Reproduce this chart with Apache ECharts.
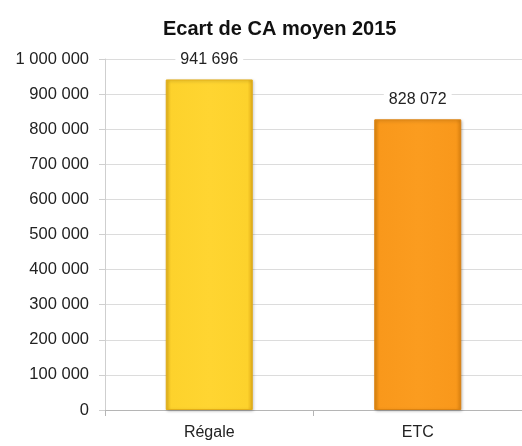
<!DOCTYPE html>
<html>
<head>
<meta charset="utf-8">
<script src="https://cdn.jsdelivr.net/npm/echarts@6/dist/echarts.min.js"></script>
<style>
  html, body { margin: 0; padding: 0; background: #fff; }
  #chart { width: 522px; height: 446px; }
</style>
</head>
<body>
<div id="chart"></div>
<script>
var categories = ['Régale', 'ETC']
var values = [941696, 828072]
var barColors = [
  ['#e9b81e', '#fdd22c', '#ffd531', '#fdd22c', '#e2ad18'],
  ['#e48a10', '#f9981b', '#fb9c1f', '#f9981b', '#dc8210']
]

function fmt(v) {
  return String(v).replace(/\B(?=(\d{3})+(?!\d))/g, ' ')
}

function gradient(c) {
  return new echarts.graphic.LinearGradient(0, 0, 1, 0, [
    { offset: 0, color: c[0] },
    { offset: 0.06, color: c[1] },
    { offset: 0.5, color: c[2] },
    { offset: 0.94, color: c[3] },
    { offset: 1, color: c[4] }
  ])
}

var chart = echarts.init(document.getElementById('chart'))
chart.setOption({
  animation: false,
  textStyle: { fontFamily: 'Liberation Sans, Arial, sans-serif' },
  title: {
    text: 'Ecart de CA moyen 2015',
    left: 158,
    top: 14,
    textStyle: { fontSize: 20, fontWeight: 'bold', color: '#111' }
  },
  grid: { left: 105, right: -5, top: 59, bottom: 36 },
  xAxis: {
    type: 'category',
    data: categories,
    axisLine: { lineStyle: { color: '#b5b5b5' } },
    axisTick: { show: true, length: 6, lineStyle: { color: '#b5b5b5' } },
    axisLabel: { color: '#222', fontSize: 16, margin: 15 }
  },
  yAxis: {
    type: 'value',
    min: 0,
    max: 1000000,
    interval: 100000,
    axisLine: { show: true, lineStyle: { color: '#cfcfcf' } },
    axisTick: { show: true, length: 6, lineStyle: { color: '#cfcfcf' } },
    axisLabel: { color: '#222', fontSize: 16.5, margin: 16, formatter: fmt },
    splitLine: { lineStyle: { color: '#dcdcdc' } }
  },
  series: [{
    type: 'bar',
    barWidth: 87,
    data: values.map(function (v, i) {
      return {
        value: v,
        itemStyle: {
          color: gradient(barColors[i]),
          borderColor: barColors[i][4],
          borderWidth: 1,
          shadowColor: 'rgba(0,0,0,0.25)',
          shadowBlur: 3,
          shadowOffsetX: 1,
          shadowOffsetY: 1
        }
      }
    }),
    label: {
      show: true,
      position: 'top',
      distance: 12,
      color: '#222',
      fontSize: 16,
      backgroundColor: '#fff',
      padding: [0, 5],
      formatter: function (p) { return fmt(p.value) }
    }
  }]
})
</script>
</body>
</html>
